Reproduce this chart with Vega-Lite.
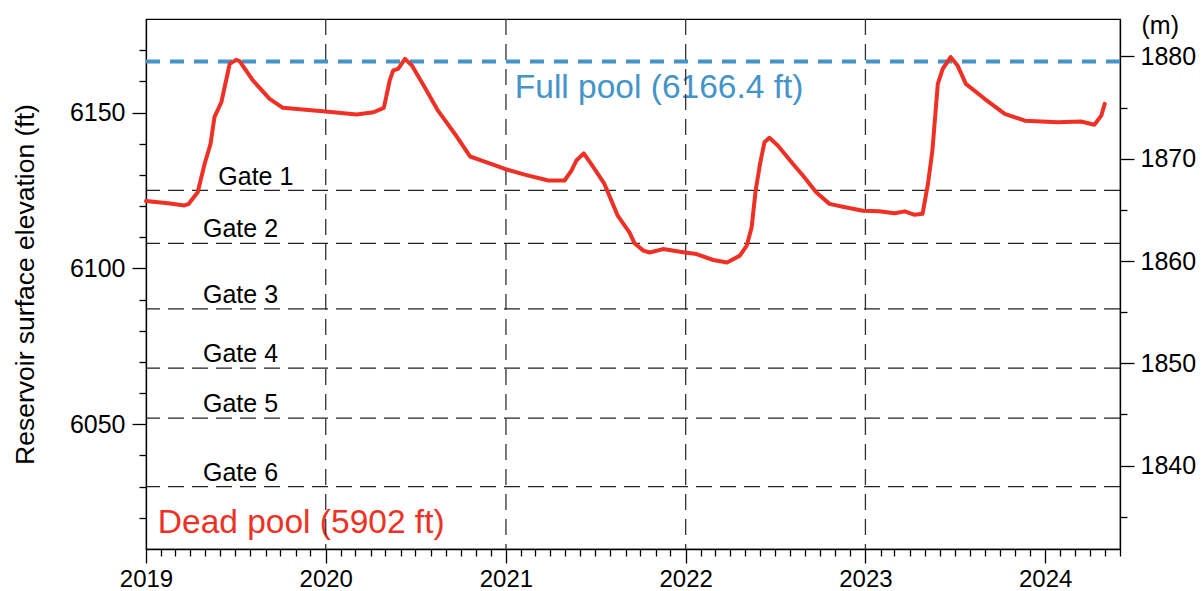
{
  "$schema": "https://vega.github.io/schema/vega-lite/v6.json",
  "width": 974,
  "height": 530,
  "autosize": {"type": "none"},
  "padding": {"left": 146, "top": 19, "right": 82, "bottom": 42},
  "background": "white",
  "config": {
    "view": {"stroke": "#000", "strokeWidth": 1.2},
    "font": "Liberation Sans",
    "text": {"font": "Liberation Sans"},
    "axis": {
      "labelFont": "Liberation Sans", "titleFont": "Liberation Sans",
      "labelColor": "#000", "titleColor": "#000",
      "labelFontSize": 25, "titleFontSize": 26.5, "titleFontWeight": "normal",
      "domainColor": "#000", "tickColor": "#000", "domainWidth": 1.3, "tickWidth": 1.3,
      "grid": false, "labelOverlap": false
    }
  },
  "datasets": {
    "level": [
      {"date": "2019-01-01", "ft": 6121.6},
      {"date": "2019-02-15", "ft": 6120.9},
      {"date": "2019-03-20", "ft": 6120.2},
      {"date": "2019-03-28", "ft": 6120.6},
      {"date": "2019-04-16", "ft": 6124.4},
      {"date": "2019-04-30", "ft": 6133.5},
      {"date": "2019-05-12", "ft": 6139.9},
      {"date": "2019-05-20", "ft": 6148.5},
      {"date": "2019-06-03", "ft": 6153.3},
      {"date": "2019-06-20", "ft": 6165.6},
      {"date": "2019-07-03", "ft": 6166.9},
      {"date": "2019-07-10", "ft": 6166.5},
      {"date": "2019-08-06", "ft": 6160.3},
      {"date": "2019-09-09", "ft": 6154.4},
      {"date": "2019-10-06", "ft": 6151.5},
      {"date": "2019-12-26", "ft": 6150.4},
      {"date": "2020-03-04", "ft": 6149.4},
      {"date": "2020-04-07", "ft": 6150.1},
      {"date": "2020-04-28", "ft": 6151.5},
      {"date": "2020-05-10", "ft": 6160.3},
      {"date": "2020-05-17", "ft": 6163.5},
      {"date": "2020-05-27", "ft": 6164.0},
      {"date": "2020-06-10", "ft": 6167.2},
      {"date": "2020-06-24", "ft": 6165.1},
      {"date": "2020-07-20", "ft": 6158.1},
      {"date": "2020-08-16", "ft": 6150.6},
      {"date": "2020-09-19", "ft": 6143.2},
      {"date": "2020-10-20", "ft": 6135.9},
      {"date": "2020-11-13", "ft": 6134.6},
      {"date": "2020-12-30", "ft": 6131.9},
      {"date": "2021-02-08", "ft": 6130.1},
      {"date": "2021-03-28", "ft": 6128.2},
      {"date": "2021-04-30", "ft": 6128.2},
      {"date": "2021-05-14", "ft": 6131.4},
      {"date": "2021-05-24", "ft": 6134.6},
      {"date": "2021-06-08", "ft": 6136.9},
      {"date": "2021-06-23", "ft": 6133.5},
      {"date": "2021-07-20", "ft": 6127.1},
      {"date": "2021-08-16", "ft": 6116.9},
      {"date": "2021-09-09", "ft": 6111.5},
      {"date": "2021-09-19", "ft": 6108.1},
      {"date": "2021-10-07", "ft": 6105.7},
      {"date": "2021-10-20", "ft": 6105.1},
      {"date": "2021-11-16", "ft": 6106.2},
      {"date": "2021-12-30", "ft": 6105.1},
      {"date": "2022-01-23", "ft": 6104.6},
      {"date": "2022-02-26", "ft": 6102.7},
      {"date": "2022-03-26", "ft": 6101.9},
      {"date": "2022-04-21", "ft": 6104.1},
      {"date": "2022-05-05", "ft": 6107.3},
      {"date": "2022-05-15", "ft": 6113.2},
      {"date": "2022-05-23", "ft": 6124.9},
      {"date": "2022-06-01", "ft": 6133.5},
      {"date": "2022-06-10", "ft": 6140.5},
      {"date": "2022-06-20", "ft": 6141.9},
      {"date": "2022-07-07", "ft": 6139.4},
      {"date": "2022-08-07", "ft": 6133.5},
      {"date": "2022-08-27", "ft": 6129.8},
      {"date": "2022-09-23", "ft": 6124.4},
      {"date": "2022-10-20", "ft": 6120.7},
      {"date": "2022-11-16", "ft": 6119.8},
      {"date": "2022-12-27", "ft": 6118.5},
      {"date": "2023-01-29", "ft": 6118.3},
      {"date": "2023-03-01", "ft": 6117.7},
      {"date": "2023-03-22", "ft": 6118.3},
      {"date": "2023-04-11", "ft": 6117.2},
      {"date": "2023-04-27", "ft": 6117.5},
      {"date": "2023-05-08", "ft": 6127.1},
      {"date": "2023-05-17", "ft": 6137.8},
      {"date": "2023-05-28", "ft": 6159.2},
      {"date": "2023-06-07", "ft": 6164.0},
      {"date": "2023-06-23", "ft": 6167.8},
      {"date": "2023-07-07", "ft": 6165.1},
      {"date": "2023-07-24", "ft": 6159.2},
      {"date": "2023-08-31", "ft": 6154.4},
      {"date": "2023-10-11", "ft": 6149.6},
      {"date": "2023-11-21", "ft": 6147.4},
      {"date": "2024-01-27", "ft": 6146.9},
      {"date": "2024-03-14", "ft": 6147.1},
      {"date": "2024-04-10", "ft": 6146.1},
      {"date": "2024-04-24", "ft": 6149.0},
      {"date": "2024-05-01", "ft": 6152.8}
    ],
    "gates": [
      {"gate": "Gate 1", "ft": 6125},
      {"gate": "Gate 2", "ft": 6108},
      {"gate": "Gate 3", "ft": 6087},
      {"gate": "Gate 4", "ft": 6068},
      {"gate": "Gate 5", "ft": 6052},
      {"gate": "Gate 6", "ft": 6030}
    ],
    "years": [
      {"date": "2020-01-01"},
      {"date": "2021-01-01"},
      {"date": "2022-01-01"},
      {"date": "2023-01-01"}
    ],
    "meters": [{"m": 1880}]
  },
  "layer": [
    {
      "layer": [
        {
          "data": {"name": "gates"},
          "transform": [{"filter": "datum.gate != 'Gate 1'"}],
          "mark": {"type": "text", "align": "center", "baseline": "alphabetic", "dy": -6, "fontSize": 25, "color": "#000"},
          "encoding": {
            "x": {"datum": {"year": 2019, "month": 7, "date": 12, "utc": true}, "type": "temporal", "scale": {"type": "utc"}},
            "y": {"field": "ft", "type": "quantitative", "scale": {"domain": [6010, 6180], "nice": false, "zero": false},
              "axis": {"title": "Reservoir surface elevation (ft)", "titleAngle": 270, "titleX": -113, "titleY": 265, "titleAlign": "center", "titleBaseline": "alphabetic",
                "values": [6020, 6030, 6040, 6050, 6060, 6070, 6080, 6090, 6100, 6110, 6120, 6130, 6140, 6150, 6160, 6170],
                "format": "d", "labelOverlap": false,
                "labelExpr": "round(datum.value) % 50 == 0 ? datum.label : ''",
                "tickSize": {"condition": {"test": "round(datum.value) % 50 == 0", "value": 14}, "value": 7},
                "labelPadding": 7}},
            "text": {"field": "gate"}
          }
        },
        {
          "data": {"name": "gates"},
          "transform": [{"filter": "datum.gate == 'Gate 1'"}],
          "mark": {"type": "text", "align": "center", "baseline": "alphabetic", "dy": -5, "fontSize": 25, "color": "#000"},
          "encoding": {
            "x": {"datum": {"year": 2019, "month": 8, "date": 12, "utc": true}, "type": "temporal", "scale": {"type": "utc"}},
            "y": {"field": "ft", "type": "quantitative", "scale": {"domain": [6010, 6180], "nice": false, "zero": false},
              "axis": {"title": "Reservoir surface elevation (ft)", "titleAngle": 270, "titleX": -113, "titleY": 265, "titleAlign": "center", "titleBaseline": "alphabetic",
                "values": [6020, 6030, 6040, 6050, 6060, 6070, 6080, 6090, 6100, 6110, 6120, 6130, 6140, 6150, 6160, 6170],
                "format": "d", "labelOverlap": false,
                "labelExpr": "round(datum.value) % 50 == 0 ? datum.label : ''",
                "tickSize": {"condition": {"test": "round(datum.value) % 50 == 0", "value": 14}, "value": 7},
                "labelPadding": 7}},
            "text": {"field": "gate"}
          }
        },
        {
          "data": {"values": [{"label": "Full pool (6166.4 ft)"}]},
          "mark": {"type": "text", "align": "left", "baseline": "alphabetic", "dy": 37, "fontSize": 33.5, "color": "#4494ca"},
          "encoding": {
            "x": {"datum": {"year": 2021, "month": 1, "date": 19, "utc": true}, "type": "temporal", "scale": {"type": "utc"}},
            "y": {"datum": 6166.4, "type": "quantitative", "scale": {"domain": [6010, 6180], "nice": false, "zero": false},
              "axis": {"title": "Reservoir surface elevation (ft)", "titleAngle": 270, "titleX": -113, "titleY": 265, "titleAlign": "center", "titleBaseline": "alphabetic",
                "values": [6020, 6030, 6040, 6050, 6060, 6070, 6080, 6090, 6100, 6110, 6120, 6130, 6140, 6150, 6160, 6170],
                "format": "d", "labelOverlap": false,
                "labelExpr": "round(datum.value) % 50 == 0 ? datum.label : ''",
                "tickSize": {"condition": {"test": "round(datum.value) % 50 == 0", "value": 14}, "value": 7},
                "labelPadding": 7}},
            "text": {"field": "label"}
          }
        },
        {
          "data": {"values": [{"label": "Dead pool (5902 ft)"}]},
          "mark": {"type": "text", "align": "left", "baseline": "alphabetic", "dy": -16, "fontSize": 33.5, "color": "#ee3124"},
          "encoding": {
            "x": {"datum": {"year": 2019, "month": 1, "date": 25, "utc": true}, "type": "temporal", "scale": {"type": "utc"}},
            "y": {"datum": 6010, "type": "quantitative", "scale": {"domain": [6010, 6180], "nice": false, "zero": false},
              "axis": {"title": "Reservoir surface elevation (ft)", "titleAngle": 270, "titleX": -113, "titleY": 265, "titleAlign": "center", "titleBaseline": "alphabetic",
                "values": [6020, 6030, 6040, 6050, 6060, 6070, 6080, 6090, 6100, 6110, 6120, 6130, 6140, 6150, 6160, 6170],
                "format": "d", "labelOverlap": false,
                "labelExpr": "round(datum.value) % 50 == 0 ? datum.label : ''",
                "tickSize": {"condition": {"test": "round(datum.value) % 50 == 0", "value": 14}, "value": 7},
                "labelPadding": 7}},
            "text": {"field": "label"}
          }
        },
        {
          "data": {"name": "gates"},
          "mark": {"type": "rule", "color": "#222", "strokeWidth": 1.3, "strokeDash": [16, 8]},
          "encoding": {
            "y": {"field": "ft", "type": "quantitative", "scale": {"domain": [6010, 6180], "nice": false, "zero": false},
              "axis": {"title": "Reservoir surface elevation (ft)", "titleAngle": 270, "titleX": -113, "titleY": 265, "titleAlign": "center", "titleBaseline": "alphabetic",
                "values": [6020, 6030, 6040, 6050, 6060, 6070, 6080, 6090, 6100, 6110, 6120, 6130, 6140, 6150, 6160, 6170],
                "format": "d", "labelOverlap": false,
                "labelExpr": "round(datum.value) % 50 == 0 ? datum.label : ''",
                "tickSize": {"condition": {"test": "round(datum.value) % 50 == 0", "value": 14}, "value": 7},
                "labelPadding": 7}}
          }
        },
        {
          "data": {"name": "years"},
          "mark": {"type": "rule", "color": "#333", "strokeWidth": 1.3, "strokeDash": [16, 9]},
          "encoding": {
            "x": {"field": "date", "type": "temporal", "scale": {"type": "utc"}}
          }
        },
        {
          "data": {"values": [{"ft": 6166.4}]},
          "mark": {"type": "rule", "color": "#4494ca", "strokeWidth": 4, "strokeDash": [14, 10]},
          "encoding": {
            "y": {"field": "ft", "type": "quantitative", "scale": {"domain": [6010, 6180], "nice": false, "zero": false},
              "axis": {"title": "Reservoir surface elevation (ft)", "titleAngle": 270, "titleX": -113, "titleY": 265, "titleAlign": "center", "titleBaseline": "alphabetic",
                "values": [6020, 6030, 6040, 6050, 6060, 6070, 6080, 6090, 6100, 6110, 6120, 6130, 6140, 6150, 6160, 6170],
                "format": "d", "labelOverlap": false,
                "labelExpr": "round(datum.value) % 50 == 0 ? datum.label : ''",
                "tickSize": {"condition": {"test": "round(datum.value) % 50 == 0", "value": 14}, "value": 7},
                "labelPadding": 7}}
          }
        },
        {
          "data": {"name": "level"},
          "mark": {"type": "line", "color": "#ee3124", "strokeWidth": 4, "strokeJoin": "round", "strokeCap": "round"},
          "encoding": {
            "x": {
              "field": "date", "type": "temporal",
              "scale": {"type": "utc", "nice": false, "domain": [{"year": 2019, "month": 1, "date": 1, "utc": true}, {"year": 2024, "month": 6, "date": 1, "utc": true}]},
              "axis": {
                "title": null,
                "tickCount": {"interval": "month", "step": 1},
                "labelExpr": "utcmonth(datum.value) == 0 ? utcFormat(datum.value, '%Y') : ''",
                "tickSize": {"condition": {"test": "utcmonth(datum.value) == 0", "value": 14}, "value": 7},
                "labelPadding": 4,
                "labelFlush": false,
                "labelOverlap": false,
                "labelFontSize": 24
              }
            },
            "y": {"field": "ft", "type": "quantitative", "scale": {"domain": [6010, 6180], "nice": false, "zero": false},
              "axis": {"title": "Reservoir surface elevation (ft)", "titleAngle": 270, "titleX": -113, "titleY": 265, "titleAlign": "center", "titleBaseline": "alphabetic",
                "values": [6020, 6030, 6040, 6050, 6060, 6070, 6080, 6090, 6100, 6110, 6120, 6130, 6140, 6150, 6160, 6170],
                "format": "d", "labelOverlap": false,
                "labelExpr": "round(datum.value) % 50 == 0 ? datum.label : ''",
                "tickSize": {"condition": {"test": "round(datum.value) % 50 == 0", "value": 14}, "value": 7},
                "labelPadding": 7}}
          }
        }
      ]
    },
    {
      "data": {"name": "meters"},
      "mark": {"type": "rule", "opacity": 0},
      "encoding": {
        "y": {
          "field": "m", "type": "quantitative",
          "scale": {"domain": [1831.85, 1883.66], "nice": false, "zero": false},
          "axis": {
            "orient": "right",
            "values": [1835, 1840, 1845, 1850, 1855, 1860, 1865, 1870, 1875, 1880],
            "format": "d",
            "labelOverlap": false,
            "labelExpr": "round(datum.value) % 10 == 0 ? datum.label : ''",
            "tickSize": {"condition": {"test": "round(datum.value) % 10 == 0", "value": 14}, "value": 7},
            "labelPadding": 6,
            "title": "(m)", "titleAngle": 0, "titleX": 21, "titleY": 14, "titleAlign": "left", "titleBaseline": "alphabetic", "titleFontSize": 25
          }
        }
      }
    }
  ],
  "resolve": {"scale": {"y": "independent"}}
}
